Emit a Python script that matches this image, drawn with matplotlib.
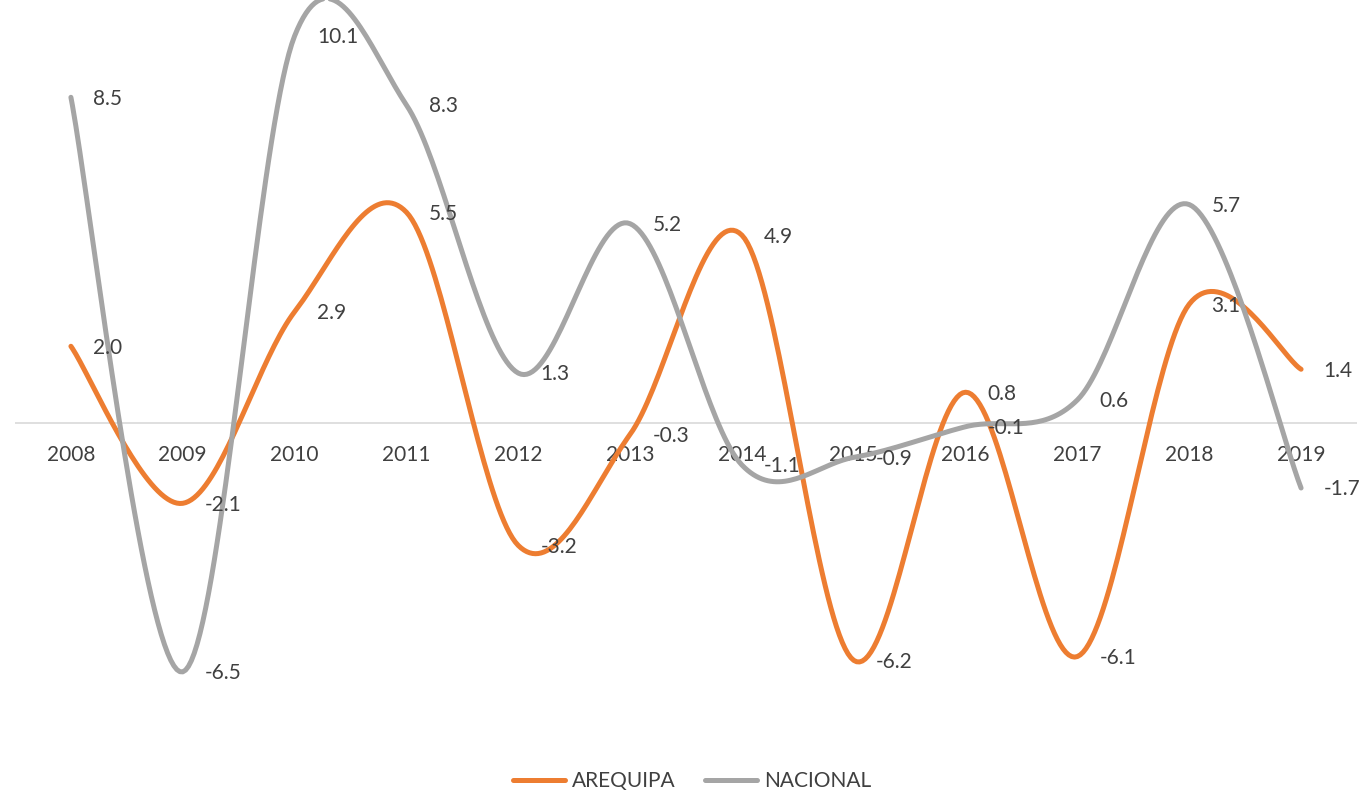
import numpy as np
import matplotlib
matplotlib.use("Agg")
import matplotlib.pyplot as plt

years = ["2008", "2009", "2010", "2011", "2012", "2013",
         "2014", "2015", "2016", "2017", "2018", "2019"]
arequipa = [2.0, -2.1, 2.9, 5.5, -3.2, -0.3, 4.9, -6.2, 0.8, -6.1, 3.1, 1.4]
nacional = [8.5, -6.5, 10.1, 8.3, 1.3, 5.2, -1.1, -0.9, -0.1, 0.6, 5.7, -1.7]

ORANGE = "#ED7D31"
GRAY = "#A5A5A5"
TEXT = "#404040"

plt.rcParams["font.family"] = ["Lato", "DejaVu Sans"]


def smooth(xs, ys, n=40):
    # excel-like smoothed line: cubic bezier with catmull-rom control points
    p = np.column_stack([xs, ys]).astype(float)
    out = [p[0]]
    t = np.linspace(0, 1, n)[1:, None]
    for i in range(len(p) - 1):
        p0 = p[max(i - 1, 0)]
        p1, p2 = p[i], p[i + 1]
        p3 = p[min(i + 2, len(p) - 1)]
        c1 = p1 + (p2 - p0) / 6
        c2 = p2 - (p3 - p1) / 6
        seg = ((1 - t) ** 3) * p1 + 3 * ((1 - t) ** 2) * t * c1 \
            + 3 * (1 - t) * t ** 2 * c2 + t ** 3 * p2
        out.extend(seg)
    out = np.array(out)
    return out[:, 0], out[:, 1]


fig = plt.figure(figsize=(13.65, 7.92), dpi=100)
ax = fig.add_axes([15 / 1365, 47 / 792, 1342 / 1365, 740 / 792])

x = np.arange(len(years))
for vals, col, name in [(arequipa, ORANGE, "AREQUIPA"), (nacional, GRAY, "NACIONAL")]:
    sx, sy = smooth(x, vals)
    ax.plot(sx, sy, color=col, lw=3.6, solid_capstyle="round",
            label=name, clip_on=False, zorder=3)
    for xi, v in zip(x, vals):
        ax.annotate(f"{v:.1f}", (xi, v), xytext=(16, -1), textcoords="offset points",
                    ha="left", va="center", fontsize=15, color=TEXT, zorder=4)

ax.set_xlim(-0.5, len(years) - 0.5)
ax.set_ylim(-8.41, 10.91)
ax.axhline(0, color="#D9D9D9", lw=1.2, zorder=1)
for s in ax.spines.values():
    s.set_visible(False)
ax.set_yticks([])
ax.set_xticks([])
# category labels just under the zero line
for xi, yr in zip(x, years):
    ax.annotate(yr, (xi, 0), xytext=(0, -23), textcoords="offset points",
                ha="center", va="center", fontsize=15, color=TEXT, zorder=2)

leg = fig.legend(loc="center", bbox_to_anchor=(0.507, 1 - 781 / 792), ncol=2,
                 frameon=False, fontsize=15, handlelength=2.5, columnspacing=1.4,
                 handletextpad=0.35)
for t in leg.get_texts():
    t.set_color(TEXT)

fig.savefig("out.png", dpi=100)
